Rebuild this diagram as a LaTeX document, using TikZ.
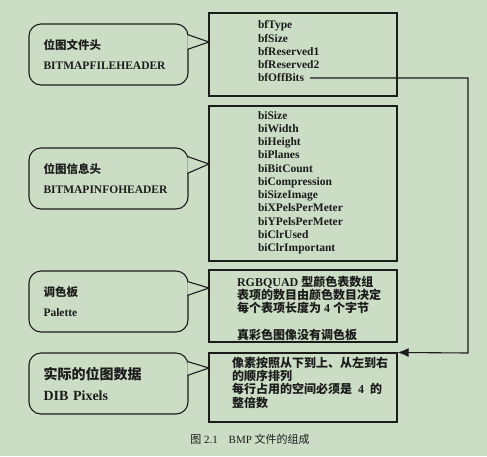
\documentclass[tikz,border=0pt]{standalone}
\usepackage{fontspec}
\setmainfont{Liberation Serif}
\newfontfamily\cjk{Noto Sans CJK SC}
\usepackage{tikz}
\usetikzlibrary{arrows.meta}
\usetikzlibrary{positioning}
\definecolor{paper}{RGB}{204,221,197}
\definecolor{ink}{RGB}{28,28,28}
\newcommand{\zh}[1]{{\cjk #1}}

\begin{document}
\begin{tikzpicture}[x=1pt,y=-1pt,line width=1.1pt,color=ink]
\tikzstyle{every node}=[text=ink,font=\bfseries\fontsize{11.5}{13.25}\selectfont]
\tikzstyle{fieldbox}=[draw,minimum width=188pt,inner sep=0pt]
\tikzstyle{fieldtext}=[anchor=west,align=left,inner sep=0pt]
\tikzstyle{zhtext}=[fieldtext,font=\bfseries\fontsize{12}{13.3}\selectfont]
\tikzstyle{bubble}=[draw,rounded corners=12pt,minimum width=159pt,minimum height=61pt,text width=130pt,inner xsep=14.5pt,align=left]
\tikzstyle{pointer}=[draw,fill=paper,line join=miter]
\fill[paper] (0,0) rectangle (487,456);
\useasboundingbox (0,0) rectangle (487,456);
% right column: the four parts of the file
\node[fieldbox,minimum height=83pt] (fh) at (303,54.5) {};
\node[fieldtext] (fhtext) at ([xshift=49pt,yshift=3pt]fh.west) {bfType\\bfSize\\bfReserved1\\bfReserved2\\bfOffBits};
\node[fieldbox,minimum height=155pt] (ih) at (303,183.5) {};
\node[fieldtext] (ihtext) at ([xshift=49pt,yshift=1pt]ih.west) {biSize\\biWidth\\biHeight\\biPlanes\\biBitCount\\biCompression\\biSizeImage\\biXPelsPerMeter\\biYPelsPerMeter\\biClrUsed\\biClrImportant};
\node[fieldbox,minimum height=72pt] (pal) at (303,306) {};
\node[zhtext] (paltext) at ([xshift=28pt,yshift=-2.5pt]pal.west) {RGBQUAD \zh{型颜色表数组}\\\zh{表项的数目由颜色数目决定}\\\zh{每个表项长度为} 4 \zh{个字节}\\[13.7pt]\zh{真彩色图像没有调色板}};
\node[fieldbox,minimum height=69pt] (px) at (303,387.5) {};
\node[zhtext] (pxtext) at ([xshift=23pt,yshift=5pt]px.west) {\zh{像素按照从下到上、从左到右}\\\zh{的顺序排列}\\\zh{每行占用的空间必须是}\enspace 4\enspace\zh{的}\\\zh{整倍数}};
% left column: callouts
\node[bubble] (fhc) at (108.5,54.5) {\zh{位图文件头}\\[6pt]BITMAPFILEHEADER};
\node[bubble] (ihc) at (108.5,178.5) {\zh{位图信息头}\\[6pt]BITMAPINFOHEADER};
\node[bubble] (palc) at (108.5,301.5) {\zh{调色板}\\[6pt]Palette};
\node[bubble,font=\bfseries\fontsize{14}{16}\selectfont] (pxc) at (108.5,383.5) {\zh{实际的位图数据}\\[5pt]DIB Pixels};
\coordinate (fhtip) at (209,42);
\coordinate (ihtip) at (209,164);
\coordinate (paltip) at (209,288);
\coordinate (pxtip) at (209,368);
\path[pointer] ([xshift=-1.3pt,yshift=-11pt]fhc.north east) -- (fhtip) -- ([xshift=-1.3pt,yshift=-26pt]fhc.north east);
\path[pointer] ([xshift=-1.3pt,yshift=-9pt]ihc.north east) -- (ihtip) -- ([xshift=-1.3pt,yshift=-26pt]ihc.north east);
\path[pointer] ([xshift=-1.3pt,yshift=-11pt]palc.north east) -- (paltip) -- ([xshift=-1.3pt,yshift=-25pt]palc.north east);
\path[pointer] ([xshift=-1.3pt,yshift=-9pt]pxc.north east) -- (pxtip) -- ([xshift=-1.3pt,yshift=-23pt]pxc.north east);
% offset to the pixel data
\coordinate (offbits) at (310,78);
\coordinate (bend) at (468,353);
\draw[-{Latex[length=11pt,width=9pt]}] (offbits) -| (bend) -- (px.north east);
\node[font=\fontsize{11}{13}\selectfont] (caption) at (250,439) {\zh{图} 2.1\quad BMP \zh{文件的组成}};
\end{tikzpicture}
\end{document}
